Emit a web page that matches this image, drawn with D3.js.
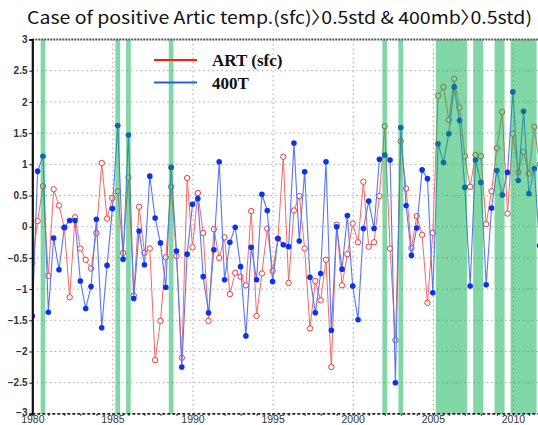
<!DOCTYPE html>
<html>
<head>
<meta charset="utf-8">
<script src="https://cdn.jsdelivr.net/npm/d3@7"></script>
<style>
  body { margin: 0; background: #fff; }
  svg { display: block; }
</style>
</head>
<body>
<svg id="chart" width="538" height="425"></svg>
<script>
// Three standardized values per year, starting in 1980
const startYear = 1980;
const stepsPerYear = 3;

// Arctic surface temperature anomaly (std units)
const artSfc = [
  -0.58, 0.09, 0.65, -0.79, 0.60, 0.34, -0.02, -1.13, 0.15, -0.35,
  -0.53, -0.67, -0.10, 1.02, 0.13, 0.46, 0.57, -0.42, 0.79, -1.10,
  0.32, -0.42, -0.35, -2.14, -1.51, -0.49, 0.64, -0.47, -2.10, 0.78,
  -0.33, 0.54, -0.10, -1.51, -0.04, -0.50, -0.17, -1.08, -0.74, -0.80,
  -0.94, 0.25, -1.43, -0.75, -0.03, -0.71, -0.19, 1.12, -0.90, 0.26,
  0.49, -0.35, -1.63, -0.87, -1.18, -0.53, -2.25, 0.03, -0.94, -0.44,
  0.05, -0.25, 0.72, -0.32, -0.25, 0.49, 1.61, -0.35, -1.82, 1.37,
  0.61, -0.34, 0.17, -0.13, -1.22, -0.10, 2.10, 2.24, 1.71, 2.37,
  1.91, 1.13, 0.64, 1.15, 1.13, 0.04, 0.57, 1.26, 1.84, 0.21,
  1.49, 0.87, 1.20, 0.85, 1.60, 1.00
];

// 400 hPa temperature anomaly (std units)
const t400 = [
  -1.43, 0.89, 1.13, -1.37, -0.18, -0.69, -0.01, 0.10, 0.10, -0.87,
  -1.31, -0.96, 0.12, -1.62, -0.62, 0.29, 1.62, -0.52, 1.47, -1.15,
  -0.07, -0.61, 0.81, 0.14, -0.26, -0.97, 0.95, -0.39, -2.25, -0.44,
  0.36, 0.45, -0.80, -1.38, -0.37, 1.04, -0.85, -0.25, -0.01, -0.64,
  -1.75, -0.33, -0.85, 0.52, 0.26, -0.88, -0.19, -0.29, -0.32, 1.34,
  -0.23, 0.88, -0.81, -1.38, -0.75, 1.04, -1.66, 0.00, -0.68, 0.18,
  -0.95, -1.49, -0.03, 0.41, -0.03, 1.08, 1.15, 1.07, -2.50, 1.59,
  0.34, -0.46, -0.02, 0.91, 0.77, -1.06, 1.33, 1.03, 1.49, 2.24,
  1.70, 0.63, -0.95, 1.07, 0.71, -0.93, 0.30, 0.90, 0.51, 0.87,
  2.16, 0.74, 1.85, 0.53, 0.93, -0.30
];

// Steps where both series exceed +0.5 std
const highlighted = [2, 16, 18, 26, 66, 69, 76, 77, 78, 79, 80, 81, 83, 84, 87, 88, 90, 91, 92, 93, 94];

const yTicks = [3, 2.5, 2, 1.5, 1, 0.5, 0, -0.5, -1, -1.5, -2, -2.5, -3];
const xTicks = [1980, 1985, 1990, 1995, 2000, 2005, 2010];

const titleText = "Case of positive Artic temp.(sfc)\u30090.5std & 400mb\u30090.5std)";
const legendItems = [
  { name: "ART (sfc)", color: "#ff1a1a" },
  { name: "400T", color: "#2060dd" }
];

const svg = d3.select("#chart");
const plot = { left: 32.3, right: 538, top: 39.5, bottom: 413.9 };

const x = d3.scaleLinear().domain([1980, 2011.567]).range([plot.left, plot.right]);
const y = d3.scaleLinear().domain([-3, 3]).range([plot.bottom, plot.top]);
const timeOf = i => startYear + i / stepsPerYear;

svg.append("defs").append("clipPath").attr("id", "plotClip")
  .append("rect")
  .attr("x", plot.left).attr("y", plot.top - 4)
  .attr("width", plot.right - plot.left).attr("height", plot.bottom - plot.top + 8);

// Title (proportional CJK punctuation keeps the brackets narrow)
svg.append("text")
  .attr("x", 27).attr("y", 24)
  .attr("textLength", 505).attr("lengthAdjust", "spacingAndGlyphs")
  .style("font-family", "'Noto Sans CJK KR', 'Noto Sans', sans-serif")
  .style("font-feature-settings", "'palt' 1")
  .style("font-size", "17px")
  .style("fill", "#111")
  .text(titleText);

// Grid
const grid = svg.append("g");
grid.selectAll("line.h").data(yTicks.filter(v => v > -3 && v < 3)).join("line")
  .attr("x1", plot.left).attr("x2", plot.right)
  .attr("y1", d => y(d)).attr("y2", d => y(d))
  .attr("stroke", "#a8a8a8").attr("stroke-width", 1)
  .attr("stroke-dasharray", "1.5,3");
grid.selectAll("line.v").data(xTicks).join("line")
  .attr("x1", d => x(d) + 0.5).attr("x2", d => x(d) + 0.5)
  .attr("y1", plot.top).attr("y2", plot.bottom)
  .attr("stroke", "#a8a8a8").attr("stroke-width", 1)
  .attr("stroke-dasharray", "1.5,3");

const dataG = svg.append("g").attr("clip-path", "url(#plotClip)");

function drawSeries(values, lineColor, lineWidth, markerFn) {
  const pts = values.map((v, i) => ({ t: timeOf(i), v }));
  const line = d3.line().x(d => x(d.t)).y(d => y(d.v));
  dataG.append("path").datum(pts)
    .attr("d", line).attr("fill", "none")
    .attr("stroke", lineColor).attr("stroke-width", lineWidth)
    .attr("stroke-linejoin", "round");
  markerFn(dataG.append("g").selectAll("circle").data(pts).join("circle")
    .attr("cx", d => x(d.t)).attr("cy", d => y(d.v)));
}

drawSeries(artSfc, "#f46868", 1, sel => sel
  .attr("r", 2.7).attr("fill", "#fff").attr("stroke", "#f23a3a").attr("stroke-width", 1));
drawSeries(t400, "#5a76f0", 1.1, sel => sel
  .attr("r", 2.8).attr("fill", "#0a32f5").attr("stroke", "none"));

// Highlight bands, translucent over the series
const runs = [];
highlighted.slice().sort((a, b) => a - b).forEach(i => {
  const last = runs[runs.length - 1];
  if (last && i === last.end + 1) last.end = i; else runs.push({ start: i, end: i });
});
const bandHalf = 2.35;
dataG.append("g").selectAll("rect").data(runs).join("rect")
  .attr("x", d => x(timeOf(d.start)) - bandHalf)
  .attr("width", d => x(timeOf(d.end)) - x(timeOf(d.start)) + 2 * bandHalf)
  .attr("y", plot.top).attr("height", plot.bottom - plot.top)
  .attr("fill", "rgb(5,175,78)").attr("fill-opacity", 0.5);

// Frame: solid left axis, dashed top and bottom
svg.append("line")
  .attr("x1", plot.left).attr("x2", plot.right)
  .attr("y1", plot.top).attr("y2", plot.top)
  .attr("stroke", "#555").attr("stroke-width", 2).attr("stroke-dasharray", "2,1");
svg.append("line")
  .attr("x1", plot.left).attr("x2", plot.right)
  .attr("y1", plot.bottom).attr("y2", plot.bottom)
  .attr("stroke", "#222").attr("stroke-width", 1.6).attr("stroke-dasharray", "3,2");

const yAxis = d3.axisLeft(y).tickValues(yTicks).tickSize(3).tickPadding(1.8)
  .tickFormat(d => (d < 0 ? "\u2212" : "") + Math.abs(d));
const yG = svg.append("g").attr("transform", `translate(${plot.left},0)`).call(yAxis);
yG.select(".domain").attr("stroke", "#111").attr("stroke-width", 2.2);
yG.selectAll(".tick line").attr("stroke", "#111");
yG.selectAll("text")
  .attr("dy", d => d === -3 ? "0.2em" : "0.32em")
  .style("font-family", "'Liberation Sans', Arial, sans-serif")
  .style("font-size", "10px").style("font-weight", "bold").style("fill", "#333");

const xAxis = d3.axisBottom(x).tickValues(d3.range(1980, 2012)).tickSize(2)
  .tickFormat(d => xTicks.includes(d) ? String(d) : "");
const xG = svg.append("g").attr("transform", `translate(0,${plot.bottom})`).call(xAxis);
xG.select(".domain").remove();
xG.selectAll(".tick line").attr("stroke", "#222");
xG.selectAll("text")
  .attr("y", 0).attr("dy", "9.1px")
  .style("font-family", "'Liberation Sans', Arial, sans-serif")
  .style("font-size", "10.5px").style("fill", "#333");

// Legend
const legend = svg.append("g");
legendItems.forEach((item, k) => {
  const ly = 60 + k * 22.5;
  legend.append("line")
    .attr("x1", 154).attr("x2", 197).attr("y1", ly).attr("y2", ly)
    .attr("stroke", item.color).attr("stroke-width", 2.2);
  legend.append("text")
    .attr("x", 212).attr("y", ly + 6)
    .style("font-family", "'Liberation Serif', 'Times New Roman', serif")
    .style("font-size", "17px").style("font-weight", "bold").style("fill", "#111")
    .text(item.name);
});
</script>
</body>
</html>
